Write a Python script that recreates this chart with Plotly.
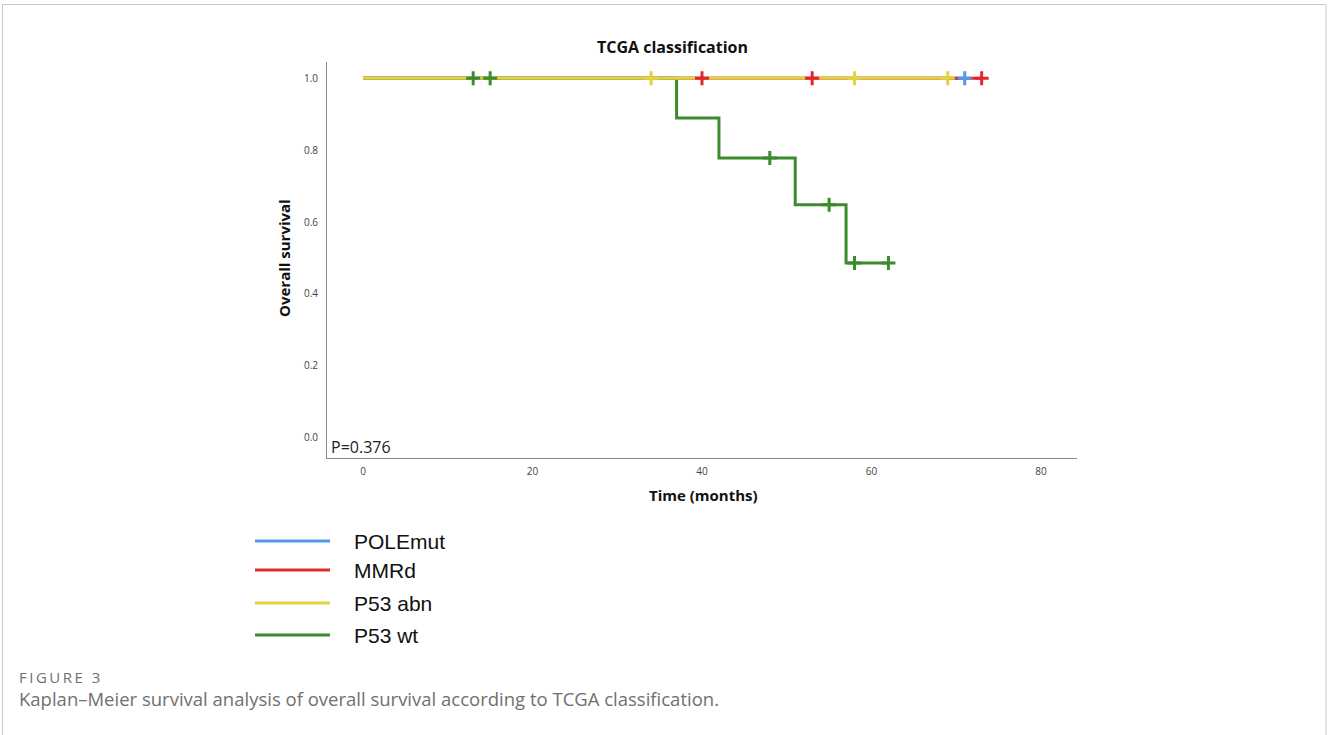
import plotly.graph_objects as go

# Kaplan-Meier curves by TCGA molecular class (time in months, survival proportion)
pole_time = [0, 71]
pole_surv = [1.0, 1.0]
pole_cens = [71]

mmrd_time = [0, 73]
mmrd_surv = [1.0, 1.0]
mmrd_cens = [40, 53, 73]

p53abn_time = [0, 69]
p53abn_surv = [1.0, 1.0]
p53abn_cens = [34, 58, 69]

p53wt_time = [0, 37, 42, 51, 57, 62]
p53wt_surv = [1.0, 0.889, 0.778, 0.648, 0.486, 0.486]
p53wt_cens = [13, 15, 48, 55, 58, 62]

group_names = ["POLEmut", "MMRd", "P53 abn", "P53 wt"]
colors = {"POLEmut": "#4f9be8", "MMRd": "#e3262d", "P53 abn": "#e2d23c", "P53 wt": "#3a8c2c"}

x_ticks = [0, 20, 40, 60, 80]
y_ticks = [0.0, 0.2, 0.4, 0.6, 0.8, 1.0]
p_value = "P=0.376"

W, H = 1328, 735


def step_value(times, surv, t):
    v = surv[0]
    for ti, si in zip(times, surv):
        if ti <= t:
            v = si
    return v


def px(x):
    return x / W


def py(y):
    return 1 - y / H


series = {
    "POLEmut": (pole_time, pole_surv, pole_cens),
    "MMRd": (mmrd_time, mmrd_surv, mmrd_cens),
    "P53 abn": (p53abn_time, p53abn_surv, p53abn_cens),
    "P53 wt": (p53wt_time, p53wt_surv, p53wt_cens),
}

fig = go.Figure()

# survival lines (drawing order keeps yellow over the overlapping 1.0 segments)
for name in ["POLEmut", "MMRd", "P53 wt", "P53 abn"]:
    t, s, _ = series[name]
    fig.add_trace(go.Scatter(x=t, y=s, mode="lines", line=dict(color=colors[name], width=3, shape="hv"),
                             showlegend=False, hoverinfo="skip"))

# censoring marks
for name in ["POLEmut", "MMRd", "P53 wt", "P53 abn"]:
    t, s, c = series[name]
    fig.add_trace(go.Scatter(x=c, y=[step_value(t, s, ci) for ci in c], mode="markers",
                             marker=dict(symbol="cross-thin", size=10,
                                         line=dict(color=colors[name], width=3)),
                             showlegend=False, hoverinfo="skip"))

axis_color = "#8a8a8a"
tick_font = dict(family="Open Sans", size=10, color="#444")

fig.update_layout(
    width=W, height=H,
    margin=dict(l=0, r=0, t=0, b=0),
    paper_bgcolor="white", plot_bgcolor="white",
    xaxis=dict(domain=[px(327), px(1077)], range=[-4.25, 84.25], tickvals=x_ticks,
               ticktext=[str(v) for v in x_ticks], showgrid=False, zeroline=False,
               showline=True, linecolor=axis_color, linewidth=1, ticks="",
               tickfont=tick_font, ticklabelstandoff=4),
    yaxis=dict(domain=[py(458), py(62)], range=[-0.056, 1.045], tickvals=y_ticks,
               ticktext=[f"{v:.1f}" for v in y_ticks], showgrid=False, zeroline=False,
               showline=True, linecolor=axis_color, linewidth=1, ticks="",
               tickfont=tick_font, ticklabelstandoff=6),
)

caption_font = dict(family="Open Sans", color="#707070")
figure_label = "\u2009".join("FIGURE 3")

annotations = [
    dict(text="<b>TCGA classification</b>", x=px(672), y=py(47), xref="paper", yref="paper",
         showarrow=False, font=dict(family="Open Sans", size=16, color="#111"), xanchor="center", yanchor="middle"),
    dict(text="<b>Overall survival</b>", x=px(284), y=py(258), xref="paper", yref="paper",
         showarrow=False, textangle=-90, font=dict(family="Open Sans", size=15, color="#111"),
         xanchor="center", yanchor="middle"),
    dict(text="<b>Time (months)</b>", x=px(703), y=py(495), xref="paper", yref="paper",
         showarrow=False, font=dict(family="Open Sans", size=15, color="#111"), xanchor="center", yanchor="middle"),
    dict(text=p_value, x=px(329), y=py(447), xref="paper", yref="paper", showarrow=False,
         font=dict(family="Open Sans", size=16, color="#222"), xanchor="left", yanchor="middle"),
    dict(text=figure_label, x=px(17), y=py(677), xref="paper", yref="paper", showarrow=False,
         font=dict(size=15, **caption_font), xanchor="left", yanchor="middle"),
    dict(text="Kaplan\u2013Meier survival analysis of overall survival according to TCGA classification.",
         x=px(17), y=py(698), xref="paper", yref="paper", showarrow=False,
         font=dict(size=18.5, **caption_font), xanchor="left", yanchor="middle"),
]

shapes = []
legend_y = [541, 570, 603, 635]
for name, ly in zip(group_names, legend_y):
    shapes.append(dict(type="line", xref="paper", yref="paper", x0=px(255), x1=px(330), y0=py(ly), y1=py(ly),
                       line=dict(color=colors[name], width=3)))
    annotations.append(dict(text=name, x=px(352), y=py(ly), xref="paper", yref="paper", showarrow=False,
                            font=dict(family="Liberation Sans", size=21, color="#111"),
                            xanchor="left", yanchor="middle"))

# light frame around the figure panel
frame = dict(color="#c9c9c9", width=1)
shapes += [
    dict(type="line", xref="paper", yref="paper", x0=px(2), x1=px(1326), y0=py(4.5), y1=py(4.5), line=frame),
    dict(type="line", xref="paper", yref="paper", x0=px(2.5), x1=px(2.5), y0=py(4.5), y1=py(740), line=frame),
    dict(type="line", xref="paper", yref="paper", x0=px(1326), x1=px(1326), y0=py(4.5), y1=py(740), line=frame),
]

fig.update_layout(annotations=annotations, shapes=shapes)

fig.write_html("out.html")
